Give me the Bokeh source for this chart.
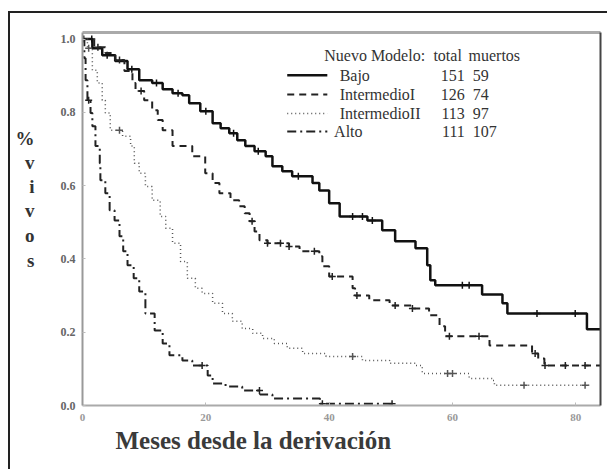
import numpy as np
from bokeh.plotting import figure
from bokeh.models import Range1d, LinearAxis, FixedTicker, Title, ColumnDataSource
from bokeh.core.properties import value
from bokeh.embed import file_html
from bokeh.resources import INLINE

# ---------------- data ----------------
bajo_t = [0, 1.6, 3.2, 5.3, 7.3, 9.2, 11.3, 13.0, 14.6, 16.2, 17.3, 19.1, 21.1, 22.4, 23.8, 25.1, 26.4, 27.9, 29.7, 30.8,
          32.4, 34.0, 37.3, 38.4, 40.0, 41.7, 46.2, 48.6, 50.7, 54.0, 55.9, 56.4, 57.2, 64.8, 68.1, 68.9, 81.8]
bajo_s = [1.0, .975, .956, .94, .918, .888, .88, .863, .852, .847, .825, .803, .77, .757, .743, .724, .708, .694, .68, .653,
          .639, .626, .607, .587, .552, .516, .505, .478, .448, .429, .383, .342, .328, .303, .279, .251, .208]
bajo_end = 84.0
bajo_c = [1.5, 4.0, 8.0, 12.0, 15.5, 20.0, 24.5, 28.5, 35.0, 43.8, 45.4, 47.0, 61.6, 62.7, 73.7, 79.9]

int1_t = [0, 1.9, 3.7, 5.3, 6.8, 8.1, 8.6, 10.0, 11.3, 12.2, 13.0, 14.6, 17.8, 19.9, 21.1, 22.2, 24.0, 25.4, 26.3, 27.1,
          27.9, 28.7, 30.0, 33.5, 35.2, 38.4, 38.9, 40.0, 43.8, 44.2, 46.5, 49.8, 53.5, 56.2, 57.9, 58.8, 66.0, 72.9, 73.9, 74.9]
int1_s = [1.0, .978, .962, .943, .913, .88, .858, .833, .806, .779, .751, .708, .68, .634, .607, .579, .56, .544, .525, .503,
          .475, .451, .443, .434, .421, .407, .38, .352, .32, .30, .287, .273, .265, .246, .216, .189, .164, .142, .128, .109]
int1_end = 84.0
int1_c = [2.5, 6.0, 9.5, 27.5, 30.0, 32.1, 33.5, 37.6, 40.5, 44.5, 50.7, 53.5, 59.5, 64.3, 73.4, 75.0, 78.3, 81.5]

int2_t = [0, 0.8, 1.6, 2.4, 3.2, 3.7, 4.5, 6.5, 7.8, 8.4, 9.2, 10.2, 11.3, 12.6, 13.5, 14.6, 15.9, 17.0, 18.3, 19.4,
          21.1, 22.7, 24.3, 25.9, 27.6, 29.2, 31.1, 33.2, 35.7, 39.5, 45.4, 49.8, 54.0, 55.1, 62.7, 66.5, 66.8]
int2_s = [1.0, .975, .915, .88, .833, .798, .751, .735, .708, .661, .634, .598, .56, .516, .484, .443, .393, .347, .32, .306,
          .279, .251, .23, .21, .197, .183, .169, .156, .142, .134, .123, .115, .109, .087, .074, .068, .055]
int2_end = 82.5
int2_c = [1.0, 6.0, 43.8, 59.2, 60.0, 71.6, 81.5]

alto_t = [0, 0.3, 0.5, 0.8, 1.3, 1.6, 2.1, 2.8, 2.9, 3.7, 4.4, 5.2, 6.0, 6.6, 7.3, 8.3, 9.2, 10.2, 11.7, 13.0,
          14.1, 16.2, 17.8, 20.3, 21.1, 23.2, 25.9, 28.8, 30.8, 38.5]
alto_s = [1.0, .948, .888, .833, .798, .762, .708, .661, .615, .579, .533, .505, .462, .421, .383, .347, .311, .251, .205, .169,
          .137, .123, .109, .082, .06, .052, .041, .030, .019, .005]
alto_end = 50.2
alto_c = [0.2, 1.0, 19.4, 28.7, 38.9, 50.2]

group_names = ["Bajo", "IntermedioI", "IntermedioII", "Alto"]
totals = ["151", "126", "113", "111"]
deaths = ["59", "74", "97", "107"]
legend_header = ["Nuevo Modelo:", "total", "muertos"]

x_ticks = [0, 20, 40, 60, 80]
x_tick_labels = ["0", "20", "40", "60", "80"]
y_ticks = [0.0, 0.2, 0.4, 0.6, 0.8, 1.0]
y_tick_labels = ["0.0", "0.2", "0.4", "0.6", "0.8", "1.0"]
y_title_chars = ["%", "v", "i", "v", "o", "s"]
y_title_pos = [0.728, 0.663, 0.598, 0.532, 0.464, 0.397]
x_title = "Meses desde la derivación"

FONT = "Liberation Serif"

# ---------------- figure ----------------
p = figure(width=599, height=458, x_range=Range1d(0, 84), y_range=Range1d(0, 1.018),
           output_backend="svg", toolbar_location=None,
           min_border_left=72, min_border_right=9, min_border_top=19, min_border_bottom=66)
p.margin = (11, 0, 0, 8)
p.styles = {"border-top": "2px solid #222222", "border-left": "2px solid #222222"}
p.outline_line_color = None
p.grid.visible = False
p.background_fill_color = "white"
p.border_fill_color = "white"

xa = p.xaxis[0]
xa.ticker = FixedTicker(ticks=x_ticks)
xa.major_label_overrides = dict(zip(x_ticks, x_tick_labels))
xa.axis_line_color = "#aaaaaa"
xa.axis_line_width = 2
xa.major_tick_in = 3
xa.major_tick_out = 0
xa.major_tick_line_color = "#bbbbbb"
xa.minor_tick_line_color = None
xa.major_label_text_font = FONT
xa.major_label_text_font_size = "11px"
xa.major_label_text_font_style = "bold"
xa.major_label_text_color = "#999999"
xa.major_label_standoff = 8

ya = p.yaxis[0]
ya.ticker = FixedTicker(ticks=y_ticks)
ya.major_label_overrides = dict(zip(y_ticks, y_tick_labels))
ya.axis_line_color = "#999999"
ya.axis_line_width = 2
ya.major_tick_in = 3
ya.major_tick_out = 0
ya.major_tick_line_color = "#bbbbbb"
ya.minor_tick_line_color = None
ya.major_label_text_font = FONT
ya.major_label_text_font_size = "12px"
ya.major_label_text_font_style = "bold"
ya.major_label_text_color = "#666666"
ya.major_label_standoff = 7

# stacked vertical title "% v i v o s" as a second left axis
ya2 = LinearAxis(ticker=FixedTicker(ticks=y_title_pos),
                 major_label_overrides=dict(zip(y_title_pos, y_title_chars)),
                 axis_line_color=None, major_tick_line_color=None, minor_tick_line_color=None,
                 major_label_text_font=FONT, major_label_text_font_size="19px",
                 major_label_text_font_style="bold", major_label_text_color="#333333",
                 major_label_standoff=17)
p.add_layout(ya2, "left")

top = LinearAxis(ticker=FixedTicker(ticks=[]), axis_line_color="#aaaaaa", axis_line_width=3,
                 major_tick_line_color=None, minor_tick_line_color=None, major_label_text_color=None)
p.add_layout(top, "above")
right = LinearAxis(ticker=FixedTicker(ticks=[]), axis_line_color="#444444", axis_line_width=2,
                   major_tick_line_color=None, minor_tick_line_color=None, major_label_text_color=None)
p.add_layout(right, "right")

p.add_layout(Title(text=x_title, align="left", offset=33, standoff=2, text_font=FONT, text_font_size="25px",
                   text_font_style="bold", text_color="#3a3a3a"), "below")

styles = [
    (bajo_t, bajo_s, bajo_end, bajo_c, dict(line_color="#111111", line_width=2.5, line_dash="solid")),
    (int1_t, int1_s, int1_end, int1_c, dict(line_color="#222222", line_width=2, line_dash="7 5")),
    (int2_t, int2_s, int2_end, int2_c, dict(line_color="#555555", line_width=1.5, line_dash="1 3")),
    (alto_t, alto_s, alto_end, alto_c, dict(line_color="#222222", line_width=2, line_dash="9 4 2 4")),
]

for t, s, end, cens, st in styles:
    tt = np.array(list(t) + [end])
    ss = np.array(list(s) + [s[-1]])
    p.step(tt, ss, mode="after", **st)
    t_arr = np.array(t)
    s_arr = np.array(s)
    idx = np.searchsorted(t_arr, np.array(cens), side="right") - 1
    p.scatter(np.array(cens), s_arr[idx], marker="cross", size=7, line_color=st["line_color"], line_width=1.5)

# ---------------- legend ----------------
row_y = [0.901, 0.849, 0.797, 0.748]
header_y = 0.955
for i, st in enumerate([s[4] for s in styles]):
    p.line([33.2, 39.7], [row_y[i], row_y[i]], **st)

name_x = [41.7, 41.7, 41.7, 40.8]
legend_src = ColumnDataSource(dict(name=group_names, total=totals, dead=deaths, y=row_y, nx=name_x))
p.text(x="nx", y="y", text="name", source=legend_src, text_font=value(FONT), text_font_size="16px",
       text_color="#333333", text_baseline="middle", text_align="left")
p.text(x=62.0, y="y", text="total", source=legend_src, text_font=value(FONT), text_font_size="16px",
       text_color="#333333", text_baseline="middle", text_align="right")
p.text(x=63.3, y="y", text="dead", source=legend_src, text_font=value(FONT), text_font_size="16px",
       text_color="#333333", text_baseline="middle", text_align="left")
header_x = [39.2, 56.9, 62.6]
p.text(x=header_x, y=[header_y] * 3, text=legend_header, text_font=value(FONT), text_font_size="16px",
       text_color="#333333", text_baseline="middle", text_align="left")

open("out.html", "w").write(file_html(p, INLINE))
